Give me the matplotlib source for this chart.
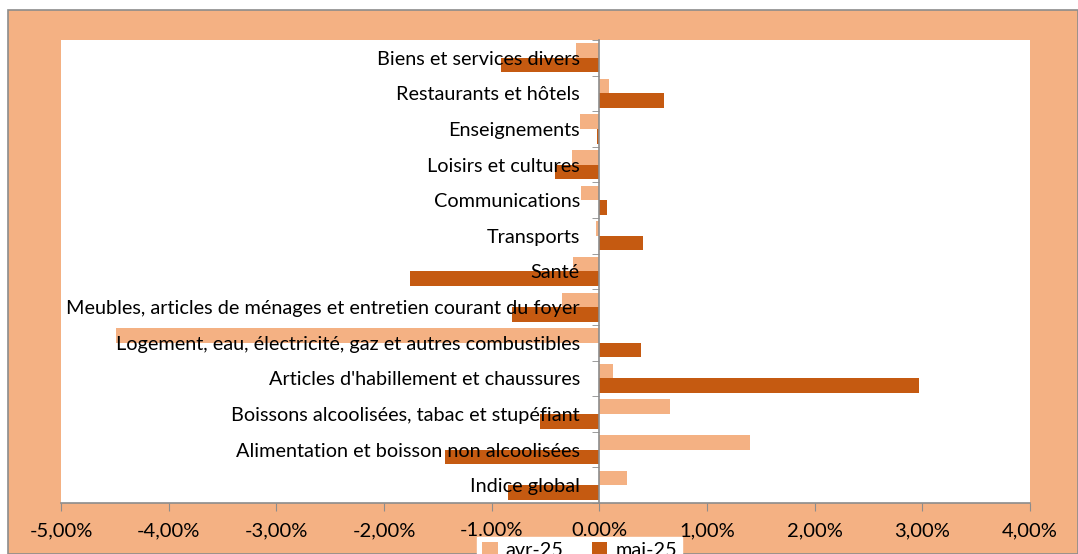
import matplotlib
matplotlib.use("Agg")
import matplotlib.pyplot as plt
from matplotlib.patches import Rectangle
import numpy as np

categories = [
    "Indice global",
    "Alimentation et boisson non alcoolisées",
    "Boissons alcoolisées, tabac et stupéfiant",
    "Articles d'habillement et chaussures",
    "Logement, eau, électricité, gaz et autres combustibles",
    "Meubles, articles de ménages et entretien courant du foyer",
    "Santé",
    "Transports",
    "Communications",
    "Loisirs et cultures",
    "Enseignements",
    "Restaurants et hôtels",
    "Biens et services divers",
]
avr_25 = [0.26, 1.40, 0.66, 0.13, -4.49, -0.35, -0.24, -0.03, -0.17, -0.25, -0.18, 0.09, -0.22]
mai_25 = [-0.85, -1.43, -0.55, 2.97, 0.39, -0.81, -1.76, 0.41, 0.07, -0.41, -0.02, 0.60, -0.91]
x_ticks = [-5, -4, -3, -2, -1, 0, 1, 2, 3, 4]
x_tick_labels = ["-5,00%", "-4,00%", "-3,00%", "-2,00%", "-1.00%", "0.00%",
                 "1,00%", "2,00%", "3,00%", "4,00%"]

c_light = "#F4B183"
c_dark = "#C55A11"
grey = "#8C8C8C"

plt.rcParams['font.family'] = ['Lato', 'DejaVu Sans']

W, H = 1078, 554
fig = plt.figure(figsize=(W / 100, H / 100), dpi=100)
fig.patch.set_facecolor("white")
bg = Rectangle((8 / W, 0), 1 - 8 / W, 1 - 10 / H, transform=fig.transFigure,
               facecolor=c_light, edgecolor=grey, linewidth=1.2, zorder=-10)
fig.add_artist(bg)

ax = fig.add_axes([61 / W, 51 / H, (1030 - 61) / W, (503 - 40) / H], zorder=1)
ax.set_facecolor("white")
ax.set_axisbelow(False)

y = np.arange(len(categories))
h = 0.41
ax.barh(y + 0.205, avr_25, height=h, color=c_light, label="avr-25", zorder=2)
ax.barh(y - 0.205, mai_25, height=h, color=c_dark, label="mai-25", zorder=2)

ax.set_xlim(-5, 4)
ax.set_ylim(-0.5, len(categories) - 0.5)

ax.set_xticks(x_ticks)
ax.set_xticklabels(x_tick_labels, fontsize=14.5)
ax.tick_params(axis='x', direction='out', length=6, color=grey, pad=8)

ax.spines['left'].set_position(('data', 0))
ax.spines['left'].set_color(grey)
ax.spines['left'].set_linewidth(1.2)
ax.spines['bottom'].set_color(grey)
ax.spines['bottom'].set_linewidth(1.2)
ax.spines['top'].set_visible(False)
ax.spines['right'].set_visible(False)

ax.set_yticks(y)
ax.set_yticklabels(categories, fontsize=14.3)
ax.set_yticks(np.arange(-0.5, len(categories), 1), minor=True)
ax.tick_params(axis='y', which='major', length=0, pad=14)
ax.tick_params(axis='y', which='minor', length=5, color=grey, direction='out')

leg = fig.legend(loc='upper center', bbox_to_anchor=(579.5 / W, 17 / H), ncol=2,
                 fontsize=14.3, frameon=True, fancybox=False, edgecolor='white',
                 facecolor='white', framealpha=1, handlelength=0.8, handleheight=0.8,
                 columnspacing=1.4, handletextpad=0.4, borderpad=0.25, borderaxespad=0)
leg.set_zorder(5)

fig.savefig("out.png", dpi=100, facecolor=fig.get_facecolor())
